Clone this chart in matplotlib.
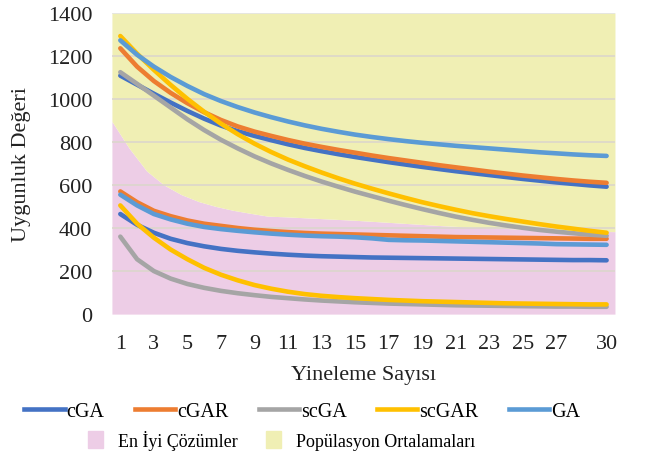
import numpy as np
import matplotlib
matplotlib.use("Agg")
import matplotlib.pyplot as plt
from matplotlib.lines import Line2D
from matplotlib.patches import Patch

plt.rcParams['font.family'] = ['Liberation Serif', 'DejaVu Serif']

iters = np.arange(1, 31)
x_ticks = [1, 3, 5, 7, 9, 11, 13, 15, 17, 19, 21, 23, 25, 27, 30]

# population averages (upper curves)
cga_avg = [1108, 1066, 1024, 983, 944, 908, 876, 850, 828, 808, 789, 772, 757, 743, 730,
           718, 706, 695, 684, 674, 664, 655, 646, 637, 628, 620, 612, 605, 598, 592]
cgar_avg = [1235, 1150, 1083, 1028, 980, 938, 902, 872, 848, 828, 809, 792, 777, 763, 750,
            737, 725, 714, 703, 692, 682, 672, 662, 653, 644, 636, 628, 621, 615, 610]
scga_avg = [1124, 1070, 1015, 960, 905, 855, 810, 770, 733, 700, 670, 642, 616, 592, 569,
            548, 527, 507, 488, 470, 453, 438, 424, 412, 401, 391, 383, 376, 369, 364]
scgar_avg = [1292, 1210, 1135, 1065, 1000, 940, 885, 836, 792, 753, 718, 687, 658, 631, 606,
             583, 561, 540, 520, 502, 485, 469, 455, 442, 430, 418, 407, 397, 387, 378]
ga_avg = [1272, 1205, 1150, 1102, 1060, 1022, 990, 962, 937, 915, 895, 877, 861, 847, 834,
          823, 813, 804, 796, 789, 782, 776, 770, 764, 758, 752, 747, 742, 738, 735]

# best solutions (lower curves)
cga_best = [465, 415, 378, 350, 330, 315, 303, 294, 287, 281, 276, 272, 269, 267, 265,
            263, 262, 261, 260, 259, 258, 257, 256, 255, 254, 253, 252, 251, 251, 250]
cgar_best = [570, 520, 480, 455, 435, 420, 410, 400, 392, 386, 381, 377, 374, 372, 370,
             368, 366, 364, 362, 360, 358, 357, 356, 355, 354, 353, 352, 351, 350, 350]
scga_best = [360, 255, 200, 165, 140, 122, 108, 97, 88, 80, 74, 68, 63, 59, 55,
             52, 49, 47, 45, 43, 41, 40, 39, 38, 37, 36, 35, 35, 34, 34]
scgar_best = [505, 420, 355, 300, 255, 215, 183, 157, 135, 118, 104, 93, 85, 79, 74,
              70, 66, 63, 60, 58, 56, 54, 52, 50, 49, 48, 47, 46, 45, 45]
ga_best = [555, 505, 465, 440, 420, 405, 395, 387, 380, 374, 369, 365, 362, 360, 357,
           352, 345, 343, 342, 340, 338, 336, 334, 332, 330, 328, 325, 324, 323, 322]

# background areas
best_area = [895, 770, 665, 600, 555, 523, 500, 482, 468, 455, 452, 448, 444, 440, 436,
             431, 426, 421, 416, 411, 407, 403, 400, 397, 394, 391, 389, 387, 385, 383]
avg_area_top = 1400

names = ['cGA', 'cGAR', 'scGA', 'scGAR', 'GA']
colors = ['#4472C4', '#ED7D31', '#A5A5A5', '#FFC000', '#5B9BD5']
avg_series = [cga_avg, cgar_avg, scga_avg, scgar_avg, ga_avg]
best_series = [cga_best, cgar_best, scga_best, scgar_best, ga_best]

pink = '#EDCDE6'
yellow = '#F0EFB4'

fig = plt.figure(figsize=(6.47, 4.60), dpi=100)
ax = fig.add_axes([0.173, 0.315, 0.7775, 0.655])

# area chart on its own category axis (edge to edge)
ax2 = ax.twiny()
ax2.fill_between(iters, 0, best_area, color=pink, lw=0)
ax2.fill_between(iters, best_area, avg_area_top, color=yellow, lw=0)
ax2.set_xlim(1, 30)
ax2.set_xticks([])
for s in ax2.spines.values():
    s.set_visible(False)

ax.set_zorder(ax2.get_zorder() + 1)
ax.patch.set_visible(False)

for ys in [200, 400, 600, 800, 1000, 1200]:
    ax.axhline(ys, color='#DCD6CC', lw=1.2, zorder=1)
ax.axhline(1400, color='#E4E4E4', lw=1.2, zorder=1)

for name, c, a, b in zip(names, colors, avg_series, best_series):
    ax.plot(iters, a, color=c, lw=3.3, solid_capstyle='round', zorder=3)
    ax.plot(iters, b, color=c, lw=3.3, solid_capstyle='round', zorder=3)

ax.set_xlim(0.5, 30.5)
ax.set_ylim(0, 1400)
ax.set_yticks(range(0, 1401, 200))
ax.set_xticks(x_ticks)
ax.tick_params(axis='both', length=0, labelsize=16, colors='#222222')
ax.tick_params(axis='y', pad=14)
ax.tick_params(axis='x', pad=14)
for s in ax.spines.values():
    s.set_visible(False)

ax.set_xlabel('Yineleme Sayısı', fontsize=16, labelpad=9, color='#222222')
ax.set_ylabel('Uygunluk Değeri', fontsize=16, labelpad=12, color='#222222')

line_handles = [Line2D([0], [0], color=c, lw=3.3) for c in colors]
fig.legend(line_handles, names, loc='center', bbox_to_anchor=(0.467, 0.104),
           ncol=5, frameon=False, fontsize=14.5, handlelength=2.0,
           handletextpad=0.1, columnspacing=1.5)
area_handles = [Patch(color=pink), Patch(color=yellow)]
fig.legend(area_handles, ['En İyi Çözümler', 'Popülasyon Ortalamaları'], loc='center',
           bbox_to_anchor=(0.435, 0.042), ncol=2, frameon=False, fontsize=13,
           handlelength=0.85, handleheight=1.1, handletextpad=0.8, columnspacing=1.6)

fig.savefig('out.png', dpi=100)
